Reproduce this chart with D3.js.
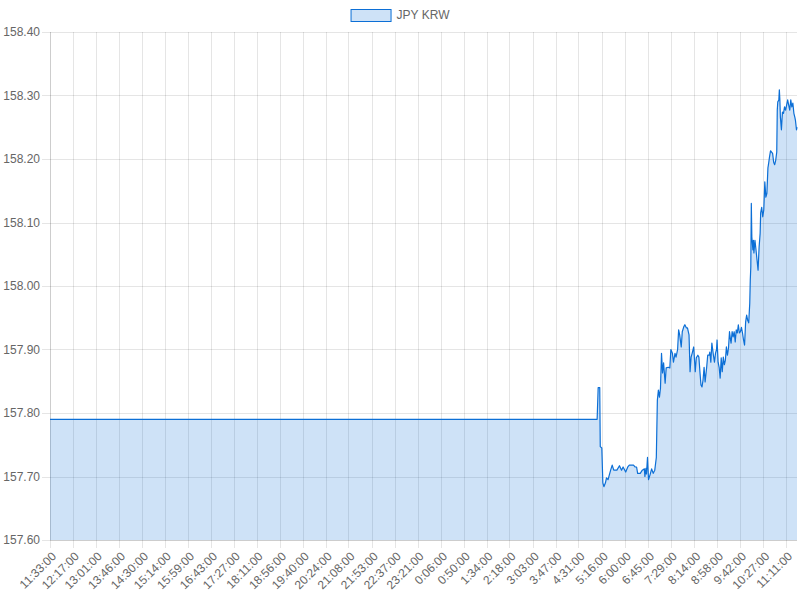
<!DOCTYPE html>
<html>
<head>
<meta charset="utf-8">
<script src="https://cdn.jsdelivr.net/npm/d3@7"></script>
<style>
  body { margin: 0; background: #fff; }
  svg text { font-family: "Liberation Sans", Arial, Helvetica, sans-serif; fill: #666; }
</style>
</head>
<body>
<svg width="800" height="600"></svg>
<script>
const seriesName = "JPY KRW";
const startTime = "11:33";
const minutesInDay = 1440;

const yTicks = [157.6, 157.7, 157.8, 157.9, 158.0, 158.1, 158.2, 158.3, 158.4];

const tickLabels = [
  "11:33:00", "12:17:00", "13:01:00", "13:46:00", "14:30:00", "15:14:00", "15:59:00",
  "16:43:00", "17:27:00", "18:11:00", "18:56:00", "19:40:00", "20:24:00", "21:08:00",
  "21:53:00", "22:37:00", "23:21:00", "0:06:00", "0:50:00", "1:34:00", "2:18:00",
  "3:03:00", "3:47:00", "4:31:00", "5:16:00", "6:00:00", "6:45:00", "7:29:00",
  "8:14:00", "8:58:00", "9:42:00", "10:27:00", "11:11:00"
];

// quotes (time of day, rate); flat from the start until the morning session
const times = [
  "11:33",
  "5:07", "5:09", "5:12", "5:13", "5:16", "5:18", "5:20", "5:23", "5:25", "5:28",
  "5:33", "5:36", "5:39", "5:45", "5:50", "5:54", "5:57", "6:02", "6:06", "6:09",
  "6:17", "6:20", "6:23", "6:25", "6:30", "6:34", "6:38", "6:39", "6:41", "6:42",
  "6:44", "6:46", "6:49", "6:52", "6:55", "6:58", "7:01", "7:03", "7:05", "7:07",
  "7:09", "7:11", "7:13", "7:15", "7:18", "7:20", "7:24", "7:27", "7:29", "7:32",
  "7:34", "7:37", "7:39", "7:42", "7:44", "7:46", "7:49", "7:51", "7:54", "7:56",
  "7:59", "8:01", "8:04", "8:06", "8:08", "8:10", "8:13", "8:16", "8:18", "8:21",
  "8:23", "8:25", "8:27", "8:29", "8:31", "8:33", "8:35", "8:38", "8:40", "8:43",
  "8:44", "8:46", "8:48", "8:51", "8:53", "8:55", "8:57", "8:58", "9:00", "9:02",
  "9:04", "9:06", "9:08", "9:10", "9:12", "9:14", "9:16", "9:18", "9:20", "9:22",
  "9:24", "9:25", "9:27", "9:29", "9:31", "9:33", "9:35", "9:37", "9:39", "9:41",
  "9:43", "9:45", "9:47", "9:49", "9:51", "9:53", "9:55", "9:57", "9:59", "10:01",
  "10:02", "10:03", "10:04", "10:05", "10:07", "10:08", "10:09", "10:11", "10:13", "10:15",
  "10:17", "10:19", "10:21", "10:22", "10:24", "10:26", "10:28", "10:30", "10:32", "10:34",
  "10:36", "10:37", "10:39", "10:41", "10:43", "10:45", "10:47", "10:49", "10:51", "10:53",
  "10:54", "10:55", "10:57", "10:58", "10:59", "11:00", "11:02", "11:03", "11:04", "11:06",
  "11:08", "11:10", "11:12", "11:14", "11:16", "11:18", "11:20", "11:22", "11:24", "11:26",
  "11:28", "11:29", "11:31", "11:32"
];
const values = [
  157.79,
  157.79, 157.84, 157.84, 157.747, 157.745, 157.69, 157.684, 157.69, 157.698, 157.695,
  157.71, 157.718, 157.71, 157.71, 157.717, 157.71, 157.715, 157.707, 157.715, 157.718,
  157.718, 157.715, 157.715, 157.705, 157.705, 157.71, 157.712, 157.70, 157.713, 157.704,
  157.73, 157.695, 157.703, 157.712, 157.705, 157.71, 157.73, 157.82, 157.836, 157.825,
  157.839, 157.894, 157.863, 157.879, 157.847, 157.871, 157.872, 157.871, 157.90, 157.894,
  157.88, 157.894, 157.888, 157.90, 157.931, 157.923, 157.904, 157.928, 157.936, 157.939,
  157.934, 157.934, 157.923, 157.865, 157.888, 157.894, 157.904, 157.865, 157.887, 157.891,
  157.888, 157.865, 157.844, 157.841, 157.852, 157.872, 157.849, 157.872, 157.891, 157.891,
  157.896, 157.88, 157.91, 157.891, 157.88, 157.894, 157.90, 157.915, 157.88, 157.872,
  157.855, 157.887, 157.865, 157.888, 157.876, 157.883, 157.904, 157.891, 157.902, 157.928,
  157.915, 157.91, 157.928, 157.92, 157.928, 157.912, 157.931, 157.926, 157.939, 157.926,
  157.928, 157.935, 157.926, 157.915, 157.907, 157.943, 157.954, 157.946, 157.942, 157.973,
  158.009, 158.03, 158.13, 158.077, 158.057, 158.072, 158.052, 158.072, 158.057, 158.041,
  158.025, 158.061, 158.083, 158.115, 158.124, 158.109, 158.12, 158.164, 158.14, 158.146,
  158.186, 158.191, 158.203, 158.213, 158.211, 158.209, 158.195, 158.191, 158.198, 158.211,
  158.277, 158.29, 158.293, 158.309, 158.293, 158.266, 158.246, 158.261, 158.274, 158.272,
  158.282, 158.277, 158.285, 158.293, 158.285, 158.277, 158.293, 158.282, 158.288, 158.272,
  158.265, 158.261, 158.246, 158.25
];

const lineColor = "#0c6fd6";
const fillColor = "rgba(12, 111, 214, 0.2)";
const gridColor = "rgba(0, 0, 0, 0.1)";

function toMinutes(s) {
  const p = s.split(":");
  return +p[0] * 60 + +p[1];
}
// minutes elapsed since the first quote, wrapping past midnight
function offset(s) {
  return (toMinutes(s) - toMinutes(startTime) + minutesInDay) % minutesInDay;
}

const svg = d3.select("svg"),
  width = +svg.attr("width"),
  height = +svg.attr("height"),
  margin = { top: 32, right: 3, bottom: 60, left: 50 };

const data = times.map((t, i) => ({ t: offset(t), v: values[i] }));

const x = d3.scaleLinear()
  .domain([0, minutesInDay - 1])
  .range([margin.left, width - margin.right]);
const y = d3.scaleLinear()
  .domain([d3.min(yTicks), d3.max(yTicks)])
  .range([height - margin.bottom, margin.top]);

const tickOffsets = tickLabels.map(offset);

// grid
const grid = svg.append("g").attr("class", "grid");
grid.selectAll(".hgrid")
  .data(yTicks)
  .enter().append("line")
  .attr("x1", margin.left - 8)
  .attr("x2", width - margin.right)
  .attr("y1", (d) => Math.round(y(d)) + 0.5)
  .attr("y2", (d) => Math.round(y(d)) + 0.5)
  .attr("stroke", gridColor);
grid.selectAll(".vgrid")
  .data(tickOffsets)
  .enter().append("line")
  .attr("x1", (d) => Math.round(x(d)) + 0.5)
  .attr("x2", (d) => Math.round(x(d)) + 0.5)
  .attr("y1", margin.top)
  .attr("y2", height - margin.bottom + 8)
  .attr("stroke", gridColor);
// axis borders
grid.append("line")
  .attr("x1", margin.left + 0.5).attr("x2", margin.left + 0.5)
  .attr("y1", margin.top).attr("y2", height - margin.bottom)
  .attr("stroke", gridColor);
grid.append("line")
  .attr("x1", margin.left).attr("x2", width - margin.right)
  .attr("y1", Math.round(y(yTicks[0])) + 0.5).attr("y2", Math.round(y(yTicks[0])) + 0.5)
  .attr("stroke", gridColor);

// y labels
svg.append("g")
  .selectAll("text")
  .data(yTicks)
  .enter().append("text")
  .attr("x", margin.left - 10)
  .attr("y", (d) => y(d))
  .attr("dy", "0.35em")
  .attr("text-anchor", "end")
  .style("font-size", "12px")
  .text(d3.format(".2f"));

// x labels, rotated
svg.append("g")
  .selectAll("text")
  .data(tickOffsets)
  .enter().append("text")
  .attr("transform", (d) => "translate(" + (x(d) + 4) + "," + (height - margin.bottom + 14) + ") rotate(-45)")
  .attr("dy", "0.35em")
  .attr("text-anchor", "end")
  .style("font-size", "12px")
  .text((d, i) => tickLabels[i]);

// series
const area = d3.area()
  .x((d) => x(d.t))
  .y0(y(yTicks[0]))
  .y1((d) => y(d.v));
const line = d3.line()
  .x((d) => x(d.t))
  .y((d) => y(d.v));

svg.append("path")
  .datum(data)
  .attr("d", area)
  .attr("fill", fillColor);
svg.append("path")
  .datum(data)
  .attr("d", line)
  .attr("fill", "none")
  .attr("stroke", lineColor)
  .attr("stroke-width", 1.2)
  .attr("stroke-linejoin", "round");

// legend
const legend = svg.append("g");
const legendText = legend.append("text")
  .attr("y", 15)
  .attr("dy", "0.35em")
  .style("font-size", "12px")
  .text(seriesName);
const textW = legendText.node().getComputedTextLength();
const boxW = 40, gap = 6;
const lx = width / 2 - (boxW + gap + textW) / 2;
legend.append("rect")
  .attr("x", lx + 0.5)
  .attr("y", 9.5)
  .attr("width", boxW)
  .attr("height", 12)
  .attr("fill", fillColor)
  .attr("stroke", lineColor)
  .attr("stroke-width", 1);
legendText.attr("x", lx + boxW + gap);
</script>
</body>
</html>
